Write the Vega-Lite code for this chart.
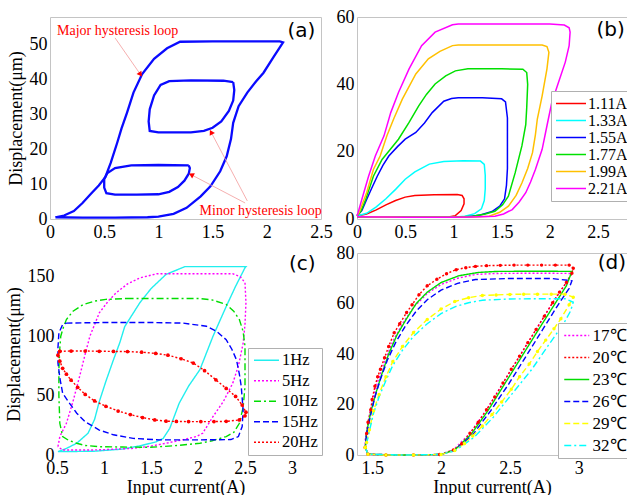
{
"$schema":"https://vega.github.io/schema/vega-lite/v6.json",
"padding":{"left":5,"top":7,"right":0,"bottom":0},
"background":"white",
"config":{
 "view":{"stroke":"#c4c4c4","strokeWidth":1},
 "axis":{"labelFont":"Liberation Serif","labelFontSize":18,"titleFont":"Liberation Serif","titleFontSize":18,"titleFontWeight":"normal","labelColor":"#000","titleColor":"#000","domain":false,"ticks":false,"grid":false,"labelFlush":false,"labelOverlap":false},
 "axisX":{"labelPadding":4,"titlePadding":1},
 "axisY":{"labelPadding":3,"titlePadding":4},
 "legend":{"labelFont":"Liberation Serif","labelColor":"#000","fillColor":"white","strokeColor":"#b0b0b0"}
},
"datasets":{
 "a":[
  {"s":"M","i":1,"x":0.05,"y":0.5},{"s":"M","i":2,"x":0.3,"y":0.4},{"s":"M","i":3,"x":0.6,"y":0.4},{"s":"M","i":4,"x":0.9,"y":0.5},{"s":"M","i":5,"x":1.0,"y":0.7},{"s":"M","i":6,"x":1.14,"y":1.5},{"s":"M","i":7,"x":1.26,"y":3.2},{"s":"M","i":8,"x":1.39,"y":6.5},{"s":"M","i":9,"x":1.48,"y":9.4},{"s":"M","i":10,"x":1.57,"y":13.7},{"s":"M","i":11,"x":1.63,"y":18},{"s":"M","i":12,"x":1.67,"y":23},{"s":"M","i":13,"x":1.69,"y":27.6},{"s":"M","i":14,"x":1.74,"y":32.4},{"s":"M","i":15,"x":1.82,"y":36.3},{"s":"M","i":16,"x":1.9,"y":39.5},{"s":"M","i":17,"x":1.97,"y":42},{"s":"M","i":18,"x":2.06,"y":46.4},{"s":"M","i":19,"x":2.15,"y":50.7},{"s":"M","i":20,"x":2.12,"y":51.0},{"s":"M","i":21,"x":1.8,"y":51.0},{"s":"M","i":22,"x":1.5,"y":51.0},{"s":"M","i":23,"x":1.2,"y":50.9},{"s":"M","i":24,"x":1.08,"y":49},{"s":"M","i":25,"x":0.96,"y":46},{"s":"M","i":26,"x":0.85,"y":41.6},{"s":"M","i":27,"x":0.77,"y":36.3},{"s":"M","i":28,"x":0.71,"y":30.5},{"s":"M","i":29,"x":0.66,"y":26},{"s":"M","i":30,"x":0.62,"y":21.9},{"s":"M","i":31,"x":0.56,"y":16.1},{"s":"M","i":32,"x":0.51,"y":12},{"s":"M","i":33,"x":0.45,"y":9.6},{"s":"M","i":34,"x":0.38,"y":7.3},{"s":"M","i":35,"x":0.3,"y":4.6},{"s":"M","i":36,"x":0.22,"y":2.3},{"s":"M","i":37,"x":0.13,"y":1.0},{"s":"M","i":38,"x":0.05,"y":0.5},
  {"s":"m1","i":1,"x":1.69,"y":39.3},{"s":"m1","i":2,"x":1.6,"y":39.7},{"s":"m1","i":3,"x":1.3,"y":39.8},{"s":"m1","i":4,"x":1.1,"y":39.6},{"s":"m1","i":5,"x":1.02,"y":38.5},{"s":"m1","i":6,"x":0.96,"y":35.5},{"s":"m1","i":7,"x":0.92,"y":31.5},{"s":"m1","i":8,"x":0.91,"y":28},{"s":"m1","i":9,"x":0.92,"y":25.3},{"s":"m1","i":10,"x":1.0,"y":24.9},{"s":"m1","i":11,"x":1.3,"y":24.9},{"s":"m1","i":12,"x":1.42,"y":25.3},{"s":"m1","i":13,"x":1.5,"y":26.2},{"s":"m1","i":14,"x":1.58,"y":28},{"s":"m1","i":15,"x":1.65,"y":31},{"s":"m1","i":16,"x":1.69,"y":34},{"s":"m1","i":17,"x":1.7,"y":37},{"s":"m1","i":18,"x":1.69,"y":39.3},
  {"s":"m2","i":1,"x":1.28,"y":15.4},{"s":"m2","i":2,"x":1.0,"y":15.5},{"s":"m2","i":3,"x":0.75,"y":15.4},{"s":"m2","i":4,"x":0.6,"y":14.6},{"s":"m2","i":5,"x":0.53,"y":13.2},{"s":"m2","i":6,"x":0.5,"y":11.5},{"s":"m2","i":7,"x":0.5,"y":9},{"s":"m2","i":8,"x":0.52,"y":7.4},{"s":"m2","i":9,"x":0.6,"y":7.0},{"s":"m2","i":10,"x":0.8,"y":7.0},{"s":"m2","i":11,"x":1.0,"y":7.1},{"s":"m2","i":12,"x":1.1,"y":7.8},{"s":"m2","i":13,"x":1.18,"y":9.2},{"s":"m2","i":14,"x":1.24,"y":11},{"s":"m2","i":15,"x":1.28,"y":13},{"s":"m2","i":16,"x":1.29,"y":14.6},{"s":"m2","i":17,"x":1.28,"y":15.4}
 ],
 "aArrow":[
  {"k":1,"x":0.83,"y":41.7,"x2":0.60,"y2":52.0},
  {"k":2,"x":1.31,"y":12.6,"x2":1.80,"y2":4.6},
  {"k":3,"x":1.49,"y":24.7,"x2":1.82,"y2":5.2}
 ],
 "aText":[
  {"x":0.065,"y":54,"t":"Major hysteresis loop"},
  {"x":1.38,"y":2.3,"t":"Minor hysteresis loop"}
 ],
 "b":[
  {"s":"1.11A","i":1,"x":0,"y":0.7},{"s":"1.11A","i":2,"x":0.5,"y":0.5},{"s":"1.11A","i":3,"x":0.95,"y":0.6},{"s":"1.11A","i":4,"x":1.02,"y":1.0},{"s":"1.11A","i":5,"x":1.08,"y":2.5},{"s":"1.11A","i":6,"x":1.11,"y":4.5},{"s":"1.11A","i":7,"x":1.11,"y":6.0},{"s":"1.11A","i":8,"x":1.09,"y":7.0},{"s":"1.11A","i":9,"x":1.04,"y":7.3},{"s":"1.11A","i":10,"x":0.8,"y":7.2},{"s":"1.11A","i":11,"x":0.6,"y":7.0},{"s":"1.11A","i":12,"x":0.5,"y":6.5},{"s":"1.11A","i":13,"x":0.4,"y":5.5},{"s":"1.11A","i":14,"x":0.3,"y":4.2},{"s":"1.11A","i":15,"x":0.2,"y":2.7},{"s":"1.11A","i":16,"x":0.1,"y":1.5},{"s":"1.11A","i":17,"x":0,"y":0.9},
  {"s":"1.33A","i":1,"x":0,"y":0.7},{"s":"1.33A","i":2,"x":0.5,"y":0.5},{"s":"1.33A","i":3,"x":1.0,"y":0.5},{"s":"1.33A","i":4,"x":1.12,"y":0.8},{"s":"1.33A","i":5,"x":1.22,"y":1.6},{"s":"1.33A","i":6,"x":1.29,"y":3.0},{"s":"1.33A","i":7,"x":1.32,"y":5.5},{"s":"1.33A","i":8,"x":1.33,"y":9},{"s":"1.33A","i":9,"x":1.33,"y":13},{"s":"1.33A","i":10,"x":1.32,"y":16.2},{"s":"1.33A","i":11,"x":1.28,"y":17.2},{"s":"1.33A","i":12,"x":1.1,"y":17.3},{"s":"1.33A","i":13,"x":0.9,"y":17.1},{"s":"1.33A","i":14,"x":0.75,"y":16.3},{"s":"1.33A","i":15,"x":0.6,"y":14},{"s":"1.33A","i":16,"x":0.5,"y":11.8},{"s":"1.33A","i":17,"x":0.4,"y":8.8},{"s":"1.33A","i":18,"x":0.3,"y":6},{"s":"1.33A","i":19,"x":0.2,"y":3.6},{"s":"1.33A","i":20,"x":0.1,"y":1.7},{"s":"1.33A","i":21,"x":0,"y":0.9},
  {"s":"1.55A","i":1,"x":0,"y":0.7},{"s":"1.55A","i":2,"x":0.5,"y":0.5},{"s":"1.55A","i":3,"x":1.0,"y":0.5},{"s":"1.55A","i":4,"x":1.15,"y":0.7},{"s":"1.55A","i":5,"x":1.28,"y":1.2},{"s":"1.55A","i":6,"x":1.4,"y":2.2},{"s":"1.55A","i":7,"x":1.48,"y":3.8},{"s":"1.55A","i":8,"x":1.53,"y":6},{"s":"1.55A","i":9,"x":1.55,"y":10},{"s":"1.55A","i":10,"x":1.56,"y":15},{"s":"1.55A","i":11,"x":1.56,"y":22},{"s":"1.55A","i":12,"x":1.56,"y":30},{"s":"1.55A","i":13,"x":1.54,"y":34.8},{"s":"1.55A","i":14,"x":1.5,"y":35.7},{"s":"1.55A","i":15,"x":1.3,"y":36},{"s":"1.55A","i":16,"x":1.05,"y":36},{"s":"1.55A","i":17,"x":0.98,"y":35.8},{"s":"1.55A","i":18,"x":0.9,"y":35},{"s":"1.55A","i":19,"x":0.78,"y":31.6},{"s":"1.55A","i":20,"x":0.7,"y":28.5},{"s":"1.55A","i":21,"x":0.61,"y":25.7},{"s":"1.55A","i":22,"x":0.5,"y":23.7},{"s":"1.55A","i":23,"x":0.42,"y":21.5},{"s":"1.55A","i":24,"x":0.33,"y":18.7},{"s":"1.55A","i":25,"x":0.27,"y":16},{"s":"1.55A","i":26,"x":0.21,"y":12.7},{"s":"1.55A","i":27,"x":0.15,"y":9},{"s":"1.55A","i":28,"x":0.1,"y":5.8},{"s":"1.55A","i":29,"x":0.05,"y":2.5},{"s":"1.55A","i":30,"x":0,"y":1},
  {"s":"1.77A","i":1,"x":0,"y":0.7},{"s":"1.77A","i":2,"x":0.5,"y":0.5},{"s":"1.77A","i":3,"x":1.0,"y":0.5},{"s":"1.77A","i":4,"x":1.2,"y":0.8},{"s":"1.77A","i":5,"x":1.33,"y":1.5},{"s":"1.77A","i":6,"x":1.43,"y":2.3},{"s":"1.77A","i":7,"x":1.51,"y":4.2},{"s":"1.77A","i":8,"x":1.57,"y":6.8},{"s":"1.77A","i":9,"x":1.64,"y":13.7},{"s":"1.77A","i":10,"x":1.71,"y":21.7},{"s":"1.77A","i":11,"x":1.75,"y":28},{"s":"1.77A","i":12,"x":1.76,"y":33},{"s":"1.77A","i":13,"x":1.77,"y":40},{"s":"1.77A","i":14,"x":1.76,"y":43.5},{"s":"1.77A","i":15,"x":1.72,"y":44.5},{"s":"1.77A","i":16,"x":1.5,"y":44.6},{"s":"1.77A","i":17,"x":1.15,"y":44.6},{"s":"1.77A","i":18,"x":1.02,"y":44},{"s":"1.77A","i":19,"x":0.92,"y":42.5},{"s":"1.77A","i":20,"x":0.81,"y":40.1},{"s":"1.77A","i":21,"x":0.72,"y":37},{"s":"1.77A","i":22,"x":0.64,"y":33.6},{"s":"1.77A","i":23,"x":0.54,"y":28.7},{"s":"1.77A","i":24,"x":0.43,"y":23.7},{"s":"1.77A","i":25,"x":0.34,"y":20.5},{"s":"1.77A","i":26,"x":0.26,"y":17.7},{"s":"1.77A","i":27,"x":0.17,"y":12.7},{"s":"1.77A","i":28,"x":0.09,"y":5.8},{"s":"1.77A","i":29,"x":0.04,"y":2.3},{"s":"1.77A","i":30,"x":0,"y":1},
  {"s":"1.99A","i":1,"x":0,"y":0.7},{"s":"1.99A","i":2,"x":0.5,"y":0.5},{"s":"1.99A","i":3,"x":1.0,"y":0.5},{"s":"1.99A","i":4,"x":1.2,"y":0.6},{"s":"1.99A","i":5,"x":1.37,"y":0.8},{"s":"1.99A","i":6,"x":1.48,"y":2},{"s":"1.99A","i":7,"x":1.57,"y":3.8},{"s":"1.99A","i":8,"x":1.65,"y":7},{"s":"1.99A","i":9,"x":1.71,"y":10.7},{"s":"1.99A","i":10,"x":1.77,"y":15},{"s":"1.99A","i":11,"x":1.82,"y":19.7},{"s":"1.99A","i":12,"x":1.85,"y":25},{"s":"1.99A","i":13,"x":1.87,"y":29.7},{"s":"1.99A","i":14,"x":1.92,"y":36.6},{"s":"1.99A","i":15,"x":1.97,"y":44.6},{"s":"1.99A","i":16,"x":1.99,"y":49.5},{"s":"1.99A","i":17,"x":1.97,"y":51.2},{"s":"1.99A","i":18,"x":1.92,"y":51.7},{"s":"1.99A","i":19,"x":1.5,"y":51.7},{"s":"1.99A","i":20,"x":1.05,"y":51.7},{"s":"1.99A","i":21,"x":0.99,"y":51.5},{"s":"1.99A","i":22,"x":0.86,"y":49.8},{"s":"1.99A","i":23,"x":0.74,"y":47.6},{"s":"1.99A","i":24,"x":0.61,"y":43.1},{"s":"1.99A","i":25,"x":0.47,"y":35.6},{"s":"1.99A","i":26,"x":0.38,"y":29.7},{"s":"1.99A","i":27,"x":0.31,"y":24.7},{"s":"1.99A","i":28,"x":0.24,"y":18.7},{"s":"1.99A","i":29,"x":0.17,"y":14.7},{"s":"1.99A","i":30,"x":0.1,"y":7.8},{"s":"1.99A","i":31,"x":0.02,"y":1.8},{"s":"1.99A","i":32,"x":0,"y":1},
  {"s":"2.21A","i":1,"x":0,"y":0.7},{"s":"2.21A","i":2,"x":0.5,"y":0.5},{"s":"2.21A","i":3,"x":1.0,"y":0.5},{"s":"2.21A","i":4,"x":1.2,"y":0.6},{"s":"2.21A","i":5,"x":1.43,"y":0.8},{"s":"2.21A","i":6,"x":1.52,"y":1.5},{"s":"2.21A","i":7,"x":1.61,"y":2.8},{"s":"2.21A","i":8,"x":1.68,"y":5},{"s":"2.21A","i":9,"x":1.75,"y":7.8},{"s":"2.21A","i":10,"x":1.8,"y":11},{"s":"2.21A","i":11,"x":1.85,"y":14.7},{"s":"2.21A","i":12,"x":1.92,"y":20.7},{"s":"2.21A","i":13,"x":1.97,"y":27.7},{"s":"2.21A","i":14,"x":2.02,"y":34.6},{"s":"2.21A","i":15,"x":2.09,"y":40.6},{"s":"2.21A","i":16,"x":2.16,"y":46.6},{"s":"2.21A","i":17,"x":2.2,"y":51.5},{"s":"2.21A","i":18,"x":2.21,"y":55.5},{"s":"2.21A","i":19,"x":2.2,"y":56.8},{"s":"2.21A","i":20,"x":2.15,"y":57.6},{"s":"2.21A","i":21,"x":2.0,"y":57.9},{"s":"2.21A","i":22,"x":1.5,"y":57.9},{"s":"2.21A","i":23,"x":1.05,"y":57.9},{"s":"2.21A","i":24,"x":0.99,"y":57.7},{"s":"2.21A","i":25,"x":0.81,"y":55.5},{"s":"2.21A","i":26,"x":0.67,"y":51.5},{"s":"2.21A","i":27,"x":0.54,"y":44.6},{"s":"2.21A","i":28,"x":0.43,"y":37.6},{"s":"2.21A","i":29,"x":0.35,"y":31.6},{"s":"2.21A","i":30,"x":0.28,"y":24.7},{"s":"2.21A","i":31,"x":0.19,"y":18.7},{"s":"2.21A","i":32,"x":0.12,"y":12.7},{"s":"2.21A","i":33,"x":0.05,"y":5.8},{"s":"2.21A","i":34,"x":0.01,"y":1.8},{"s":"2.21A","i":35,"x":0,"y":1}
 ],
 "c":[
  {"s":"1Hz","i":1,"x":0.51,"y":2.8},{"s":"1Hz","i":2,"x":0.9,"y":3.2},{"s":"1Hz","i":3,"x":1.2,"y":5},{"s":"1Hz","i":4,"x":1.4,"y":8},{"s":"1Hz","i":5,"x":1.55,"y":11},{"s":"1Hz","i":6,"x":1.63,"y":14},{"s":"1Hz","i":7,"x":1.7,"y":22.5},{"s":"1Hz","i":8,"x":1.8,"y":43.6},{"s":"1Hz","i":9,"x":1.9,"y":58},{"s":"1Hz","i":10,"x":2.02,"y":71.8},{"s":"1Hz","i":11,"x":2.16,"y":100},{"s":"1Hz","i":12,"x":2.3,"y":125},{"s":"1Hz","i":13,"x":2.4,"y":142},{"s":"1Hz","i":14,"x":2.5,"y":157.6},{"s":"1Hz","i":15,"x":2.51,"y":158.5},{"s":"1Hz","i":16,"x":2.2,"y":158.5},{"s":"1Hz","i":17,"x":1.86,"y":158.5},{"s":"1Hz","i":18,"x":1.66,"y":152},{"s":"1Hz","i":19,"x":1.5,"y":140},{"s":"1Hz","i":20,"x":1.38,"y":128},{"s":"1Hz","i":21,"x":1.3,"y":118},{"s":"1Hz","i":22,"x":1.22,"y":108},{"s":"1Hz","i":23,"x":1.17,"y":95},{"s":"1Hz","i":24,"x":1.1,"y":80},{"s":"1Hz","i":25,"x":1.02,"y":62},{"s":"1Hz","i":26,"x":0.95,"y":45},{"s":"1Hz","i":27,"x":0.9,"y":30},{"s":"1Hz","i":28,"x":0.83,"y":18.3},{"s":"1Hz","i":29,"x":0.71,"y":9.9},{"s":"1Hz","i":30,"x":0.6,"y":5.5},{"s":"1Hz","i":31,"x":0.53,"y":3.4},{"s":"1Hz","i":32,"x":0.51,"y":2.8},
  {"s":"5Hz","i":1,"x":0.51,"y":7},{"s":"5Hz","i":2,"x":0.53,"y":15.5},{"s":"5Hz","i":3,"x":0.6,"y":26.7},{"s":"5Hz","i":4,"x":0.67,"y":45},{"s":"5Hz","i":5,"x":0.74,"y":66},{"s":"5Hz","i":6,"x":0.8,"y":85},{"s":"5Hz","i":7,"x":0.85,"y":100},{"s":"5Hz","i":8,"x":0.95,"y":119.6},{"s":"5Hz","i":9,"x":1.05,"y":130},{"s":"5Hz","i":10,"x":1.13,"y":136.5},{"s":"5Hz","i":11,"x":1.25,"y":144},{"s":"5Hz","i":12,"x":1.38,"y":149},{"s":"5Hz","i":13,"x":1.56,"y":152.5},{"s":"5Hz","i":14,"x":1.9,"y":152.5},{"s":"5Hz","i":15,"x":2.2,"y":152.5},{"s":"5Hz","i":16,"x":2.37,"y":152.5},{"s":"5Hz","i":17,"x":2.45,"y":150},{"s":"5Hz","i":18,"x":2.5,"y":145},{"s":"5Hz","i":19,"x":2.51,"y":128},{"s":"5Hz","i":20,"x":2.5,"y":110},{"s":"5Hz","i":21,"x":2.48,"y":94},{"s":"5Hz","i":22,"x":2.43,"y":75},{"s":"5Hz","i":23,"x":2.37,"y":60.5},{"s":"5Hz","i":24,"x":2.27,"y":45},{"s":"5Hz","i":25,"x":2.16,"y":32.4},{"s":"5Hz","i":26,"x":2.05,"y":18.3},{"s":"5Hz","i":27,"x":1.98,"y":15.5},{"s":"5Hz","i":28,"x":1.85,"y":13},{"s":"5Hz","i":29,"x":1.66,"y":9.9},{"s":"5Hz","i":30,"x":1.5,"y":7.5},{"s":"5Hz","i":31,"x":1.31,"y":5.6},{"s":"5Hz","i":32,"x":1.0,"y":4.5},{"s":"5Hz","i":33,"x":0.85,"y":4.2},{"s":"5Hz","i":34,"x":0.56,"y":4.2},{"s":"5Hz","i":35,"x":0.51,"y":7},
  {"s":"10Hz","i":1,"x":1.24,"y":131.7},{"s":"10Hz","i":2,"x":1.6,"y":131.7},{"s":"10Hz","i":3,"x":2.02,"y":131.7},{"s":"10Hz","i":4,"x":2.15,"y":130.5},{"s":"10Hz","i":5,"x":2.3,"y":126.7},{"s":"10Hz","i":6,"x":2.38,"y":121},{"s":"10Hz","i":7,"x":2.44,"y":114},{"s":"10Hz","i":8,"x":2.48,"y":104},{"s":"10Hz","i":9,"x":2.5,"y":91.5},{"s":"10Hz","i":10,"x":2.5,"y":75},{"s":"10Hz","i":11,"x":2.5,"y":57.7},{"s":"10Hz","i":12,"x":2.48,"y":40},{"s":"10Hz","i":13,"x":2.44,"y":26.7},{"s":"10Hz","i":14,"x":2.38,"y":19},{"s":"10Hz","i":15,"x":2.3,"y":15.5},{"s":"10Hz","i":16,"x":2.15,"y":12},{"s":"10Hz","i":17,"x":2.02,"y":9.9},{"s":"10Hz","i":18,"x":1.75,"y":7.8},{"s":"10Hz","i":19,"x":1.49,"y":6.5},{"s":"10Hz","i":20,"x":1.2,"y":6.7},{"s":"10Hz","i":21,"x":0.95,"y":7},{"s":"10Hz","i":22,"x":0.8,"y":8},{"s":"10Hz","i":23,"x":0.71,"y":9.9},{"s":"10Hz","i":24,"x":0.62,"y":12.5},{"s":"10Hz","i":25,"x":0.56,"y":15.5},{"s":"10Hz","i":26,"x":0.53,"y":26.7},{"s":"10Hz","i":27,"x":0.52,"y":50},{"s":"10Hz","i":28,"x":0.52,"y":71.8},{"s":"10Hz","i":29,"x":0.53,"y":90},{"s":"10Hz","i":30,"x":0.54,"y":100},{"s":"10Hz","i":31,"x":0.57,"y":108},{"s":"10Hz","i":32,"x":0.6,"y":114},{"s":"10Hz","i":33,"x":0.67,"y":121},{"s":"10Hz","i":34,"x":0.78,"y":126.7},{"s":"10Hz","i":35,"x":0.9,"y":129.5},{"s":"10Hz","i":36,"x":1.02,"y":131},{"s":"10Hz","i":37,"x":1.24,"y":131.7},
  {"s":"15Hz","i":1,"x":0.6,"y":111},{"s":"15Hz","i":2,"x":1.0,"y":111.5},{"s":"15Hz","i":3,"x":1.5,"y":111.5},{"s":"15Hz","i":4,"x":1.84,"y":111},{"s":"15Hz","i":5,"x":2.09,"y":108.4},{"s":"15Hz","i":6,"x":2.2,"y":104},{"s":"15Hz","i":7,"x":2.3,"y":97},{"s":"15Hz","i":8,"x":2.36,"y":89},{"s":"15Hz","i":9,"x":2.41,"y":80},{"s":"15Hz","i":10,"x":2.44,"y":68},{"s":"15Hz","i":11,"x":2.46,"y":57.7},{"s":"15Hz","i":12,"x":2.48,"y":38},{"s":"15Hz","i":13,"x":2.47,"y":24},{"s":"15Hz","i":14,"x":2.43,"y":15.5},{"s":"15Hz","i":15,"x":2.35,"y":13},{"s":"15Hz","i":16,"x":2.0,"y":12.7},{"s":"15Hz","i":17,"x":1.59,"y":12.7},{"s":"15Hz","i":18,"x":1.31,"y":14},{"s":"15Hz","i":19,"x":1.1,"y":17},{"s":"15Hz","i":20,"x":0.95,"y":21},{"s":"15Hz","i":21,"x":0.8,"y":28},{"s":"15Hz","i":22,"x":0.71,"y":35.2},{"s":"15Hz","i":23,"x":0.62,"y":45},{"s":"15Hz","i":24,"x":0.56,"y":52},{"s":"15Hz","i":25,"x":0.53,"y":65},{"s":"15Hz","i":26,"x":0.51,"y":77.4},{"s":"15Hz","i":27,"x":0.51,"y":90},{"s":"15Hz","i":28,"x":0.52,"y":102.7},{"s":"15Hz","i":29,"x":0.56,"y":109.8},{"s":"15Hz","i":30,"x":0.6,"y":111},
  {"s":"20Hz","i":1,"x":0.53,"y":87.3},{"s":"20Hz","i":2,"x":0.65,"y":87.5},{"s":"20Hz","i":3,"x":0.8,"y":87.5},{"s":"20Hz","i":4,"x":0.95,"y":87.3},{"s":"20Hz","i":5,"x":1.1,"y":87.2},{"s":"20Hz","i":6,"x":1.25,"y":87},{"s":"20Hz","i":7,"x":1.4,"y":86.5},{"s":"20Hz","i":8,"x":1.55,"y":85.5},{"s":"20Hz","i":9,"x":1.68,"y":84},{"s":"20Hz","i":10,"x":1.82,"y":81},{"s":"20Hz","i":11,"x":1.95,"y":77.4},{"s":"20Hz","i":12,"x":2.07,"y":71},{"s":"20Hz","i":13,"x":2.19,"y":63.3},{"s":"20Hz","i":14,"x":2.3,"y":56},{"s":"20Hz","i":15,"x":2.4,"y":49.3},{"s":"20Hz","i":16,"x":2.47,"y":42},{"s":"20Hz","i":17,"x":2.51,"y":36},{"s":"20Hz","i":18,"x":2.5,"y":33},{"s":"20Hz","i":19,"x":2.44,"y":29.5},{"s":"20Hz","i":20,"x":2.3,"y":28.3},{"s":"20Hz","i":21,"x":2.17,"y":28.1},{"s":"20Hz","i":22,"x":2.03,"y":28.1},{"s":"20Hz","i":23,"x":1.9,"y":28.1},{"s":"20Hz","i":24,"x":1.77,"y":28.2},{"s":"20Hz","i":25,"x":1.66,"y":28.5},{"s":"20Hz","i":26,"x":1.54,"y":29.5},{"s":"20Hz","i":27,"x":1.41,"y":31.5},{"s":"20Hz","i":28,"x":1.28,"y":34},{"s":"20Hz","i":29,"x":1.15,"y":37},{"s":"20Hz","i":30,"x":1.02,"y":41},{"s":"20Hz","i":31,"x":0.9,"y":45.5},{"s":"20Hz","i":32,"x":0.8,"y":51},{"s":"20Hz","i":33,"x":0.72,"y":57},{"s":"20Hz","i":34,"x":0.65,"y":63},{"s":"20Hz","i":35,"x":0.6,"y":68},{"s":"20Hz","i":36,"x":0.56,"y":73},{"s":"20Hz","i":37,"x":0.53,"y":79},{"s":"20Hz","i":38,"x":0.51,"y":84},{"s":"20Hz","i":39,"x":0.53,"y":87.3}
 ],
 "d":[
  {"s":"17℃","i":1,"x":1.45,"y":3},{"s":"17℃","i":2,"x":1.47,"y":0.3},{"s":"17℃","i":3,"x":1.7,"y":0},{"s":"17℃","i":4,"x":1.99,"y":0.2},{"s":"17℃","i":5,"x":2.09,"y":2},{"s":"17℃","i":6,"x":2.21,"y":8.6},{"s":"17℃","i":7,"x":2.33,"y":17.9},{"s":"17℃","i":8,"x":2.45,"y":28.5},{"s":"17℃","i":9,"x":2.57,"y":39.1},{"s":"17℃","i":10,"x":2.69,"y":49.7},{"s":"17℃","i":11,"x":2.81,"y":60.3},{"s":"17℃","i":12,"x":2.91,"y":68.3},{"s":"17℃","i":13,"x":2.95,"y":71.9},{"s":"17℃","i":14,"x":2.7,"y":72},{"s":"17℃","i":15,"x":2.4,"y":71.9},{"s":"17℃","i":16,"x":2.25,"y":71.5},{"s":"17℃","i":17,"x":2.12,"y":70},{"s":"17℃","i":18,"x":2.0,"y":67.5},{"s":"17℃","i":19,"x":1.9,"y":64},{"s":"17℃","i":20,"x":1.8,"y":58.5},{"s":"17℃","i":21,"x":1.72,"y":52},{"s":"17℃","i":22,"x":1.65,"y":45},{"s":"17℃","i":23,"x":1.59,"y":37},{"s":"17℃","i":24,"x":1.54,"y":29},{"s":"17℃","i":25,"x":1.5,"y":21},{"s":"17℃","i":26,"x":1.47,"y":13},{"s":"17℃","i":27,"x":1.45,"y":6},{"s":"17℃","i":28,"x":1.45,"y":3},
  {"s":"20℃","i":1,"x":1.45,"y":3},{"s":"20℃","i":2,"x":1.47,"y":0.3},{"s":"20℃","i":3,"x":1.6,"y":0},{"s":"20℃","i":4,"x":1.8,"y":0},{"s":"20℃","i":5,"x":1.99,"y":0.2},{"s":"20℃","i":6,"x":2.09,"y":2},{"s":"20℃","i":7,"x":2.15,"y":4.5},{"s":"20℃","i":8,"x":2.21,"y":8.6},{"s":"20℃","i":9,"x":2.27,"y":13},{"s":"20℃","i":10,"x":2.33,"y":17.9},{"s":"20℃","i":11,"x":2.39,"y":23},{"s":"20℃","i":12,"x":2.45,"y":28.5},{"s":"20℃","i":13,"x":2.51,"y":34},{"s":"20℃","i":14,"x":2.57,"y":39.1},{"s":"20℃","i":15,"x":2.63,"y":44.5},{"s":"20℃","i":16,"x":2.69,"y":49.7},{"s":"20℃","i":17,"x":2.75,"y":55},{"s":"20℃","i":18,"x":2.81,"y":60.3},{"s":"20℃","i":19,"x":2.86,"y":64.5},{"s":"20℃","i":20,"x":2.91,"y":68.3},{"s":"20℃","i":21,"x":2.95,"y":72},{"s":"20℃","i":22,"x":2.96,"y":74},{"s":"20℃","i":23,"x":2.93,"y":75.2},{"s":"20℃","i":24,"x":2.83,"y":75.2},{"s":"20℃","i":25,"x":2.73,"y":75.2},{"s":"20℃","i":26,"x":2.63,"y":75.2},{"s":"20℃","i":27,"x":2.53,"y":75.2},{"s":"20℃","i":28,"x":2.43,"y":75.1},{"s":"20℃","i":29,"x":2.33,"y":75},{"s":"20℃","i":30,"x":2.25,"y":74.7},{"s":"20℃","i":31,"x":2.18,"y":74.2},{"s":"20℃","i":32,"x":2.11,"y":73.4},{"s":"20℃","i":33,"x":2.04,"y":71.8},{"s":"20℃","i":34,"x":1.97,"y":69.6},{"s":"20℃","i":35,"x":1.9,"y":67},{"s":"20℃","i":36,"x":1.84,"y":63.5},{"s":"20℃","i":37,"x":1.79,"y":59.5},{"s":"20℃","i":38,"x":1.75,"y":56.4},{"s":"20℃","i":39,"x":1.7,"y":52},{"s":"20℃","i":40,"x":1.66,"y":48.4},{"s":"20℃","i":41,"x":1.62,"y":43},{"s":"20℃","i":42,"x":1.59,"y":38.5},{"s":"20℃","i":43,"x":1.56,"y":34},{"s":"20℃","i":44,"x":1.54,"y":31},{"s":"20℃","i":45,"x":1.52,"y":27.2},{"s":"20℃","i":46,"x":1.5,"y":22},{"s":"20℃","i":47,"x":1.49,"y":17.9},{"s":"20℃","i":48,"x":1.47,"y":13},{"s":"20℃","i":49,"x":1.46,"y":8.5},{"s":"20℃","i":50,"x":1.45,"y":3},
  {"s":"23℃","i":1,"x":1.45,"y":3},{"s":"23℃","i":2,"x":1.47,"y":0.3},{"s":"23℃","i":3,"x":1.7,"y":0},{"s":"23℃","i":4,"x":2.0,"y":0.2},{"s":"23℃","i":5,"x":2.1,"y":2},{"s":"23℃","i":6,"x":2.22,"y":8.3},{"s":"23℃","i":7,"x":2.34,"y":17.5},{"s":"23℃","i":8,"x":2.46,"y":28},{"s":"23℃","i":9,"x":2.58,"y":38.5},{"s":"23℃","i":10,"x":2.7,"y":49},{"s":"23℃","i":11,"x":2.82,"y":59.3},{"s":"23℃","i":12,"x":2.91,"y":67},{"s":"23℃","i":13,"x":2.95,"y":72.7},{"s":"23℃","i":14,"x":2.7,"y":72.8},{"s":"23℃","i":15,"x":2.4,"y":72.7},{"s":"23℃","i":16,"x":2.27,"y":72.3},{"s":"23℃","i":17,"x":2.13,"y":71},{"s":"23℃","i":18,"x":2.0,"y":68.3},{"s":"23℃","i":19,"x":1.9,"y":64.5},{"s":"23℃","i":20,"x":1.82,"y":60},{"s":"23℃","i":21,"x":1.75,"y":54},{"s":"23℃","i":22,"x":1.68,"y":47.5},{"s":"23℃","i":23,"x":1.62,"y":40},{"s":"23℃","i":24,"x":1.57,"y":32},{"s":"23℃","i":25,"x":1.53,"y":25},{"s":"23℃","i":26,"x":1.49,"y":17},{"s":"23℃","i":27,"x":1.46,"y":9},{"s":"23℃","i":28,"x":1.45,"y":3},
  {"s":"26℃","i":1,"x":1.45,"y":3},{"s":"26℃","i":2,"x":1.47,"y":0.3},{"s":"26℃","i":3,"x":1.7,"y":0},{"s":"26℃","i":4,"x":2.0,"y":0.2},{"s":"26℃","i":5,"x":2.1,"y":2},{"s":"26℃","i":6,"x":2.23,"y":8},{"s":"26℃","i":7,"x":2.36,"y":17.5},{"s":"26℃","i":8,"x":2.49,"y":28},{"s":"26℃","i":9,"x":2.61,"y":38.5},{"s":"26℃","i":10,"x":2.73,"y":49},{"s":"26℃","i":11,"x":2.85,"y":59.5},{"s":"26℃","i":12,"x":2.93,"y":66},{"s":"26℃","i":13,"x":2.95,"y":69},{"s":"26℃","i":14,"x":2.8,"y":69.9},{"s":"26℃","i":15,"x":2.5,"y":69.9},{"s":"26℃","i":16,"x":2.25,"y":69.5},{"s":"26℃","i":17,"x":2.12,"y":68},{"s":"26℃","i":18,"x":2.0,"y":65.3},{"s":"26℃","i":19,"x":1.9,"y":61.5},{"s":"26℃","i":20,"x":1.82,"y":57},{"s":"26℃","i":21,"x":1.74,"y":51},{"s":"26℃","i":22,"x":1.67,"y":44.5},{"s":"26℃","i":23,"x":1.61,"y":37.5},{"s":"26℃","i":24,"x":1.56,"y":30},{"s":"26℃","i":25,"x":1.52,"y":23},{"s":"26℃","i":26,"x":1.49,"y":16},{"s":"26℃","i":27,"x":1.46,"y":8.5},{"s":"26℃","i":28,"x":1.45,"y":3},
  {"s":"29℃","i":1,"x":1.45,"y":3},{"s":"29℃","i":2,"x":1.47,"y":0.3},{"s":"29℃","i":3,"x":1.6,"y":0},{"s":"29℃","i":4,"x":1.8,"y":0},{"s":"29℃","i":5,"x":2.0,"y":0.2},{"s":"29℃","i":6,"x":2.1,"y":1.8},{"s":"29℃","i":7,"x":2.17,"y":4.5},{"s":"29℃","i":8,"x":2.23,"y":7.5},{"s":"29℃","i":9,"x":2.3,"y":11.5},{"s":"29℃","i":10,"x":2.37,"y":16},{"s":"29℃","i":11,"x":2.44,"y":21},{"s":"29℃","i":12,"x":2.51,"y":26},{"s":"29℃","i":13,"x":2.57,"y":31},{"s":"29℃","i":14,"x":2.64,"y":36},{"s":"29℃","i":15,"x":2.7,"y":41},{"s":"29℃","i":16,"x":2.76,"y":45.5},{"s":"29℃","i":17,"x":2.82,"y":50},{"s":"29℃","i":18,"x":2.87,"y":54},{"s":"29℃","i":19,"x":2.93,"y":59.5},{"s":"29℃","i":20,"x":2.96,"y":62.5},{"s":"29℃","i":21,"x":2.9,"y":63.7},{"s":"29℃","i":22,"x":2.8,"y":63.7},{"s":"29℃","i":23,"x":2.7,"y":63.7},{"s":"29℃","i":24,"x":2.6,"y":63.7},{"s":"29℃","i":25,"x":2.5,"y":63.6},{"s":"29℃","i":26,"x":2.4,"y":63.4},{"s":"29℃","i":27,"x":2.3,"y":63.2},{"s":"29℃","i":28,"x":2.2,"y":62.3},{"s":"29℃","i":29,"x":2.1,"y":60.8},{"s":"29℃","i":30,"x":2.0,"y":57.8},{"s":"29℃","i":31,"x":1.9,"y":53.7},{"s":"29℃","i":32,"x":1.8,"y":48.5},{"s":"29℃","i":33,"x":1.72,"y":43},{"s":"29℃","i":34,"x":1.65,"y":37},{"s":"29℃","i":35,"x":1.6,"y":31},{"s":"29℃","i":36,"x":1.55,"y":24},{"s":"29℃","i":37,"x":1.51,"y":17.5},{"s":"29℃","i":38,"x":1.48,"y":10},{"s":"29℃","i":39,"x":1.46,"y":5},{"s":"29℃","i":40,"x":1.45,"y":3},
  {"s":"32℃","i":1,"x":1.45,"y":3},{"s":"32℃","i":2,"x":1.47,"y":0.3},{"s":"32℃","i":3,"x":1.7,"y":0},{"s":"32℃","i":4,"x":2.0,"y":0.2},{"s":"32℃","i":5,"x":2.1,"y":1.6},{"s":"32℃","i":6,"x":2.24,"y":7},{"s":"32℃","i":7,"x":2.38,"y":15},{"s":"32℃","i":8,"x":2.52,"y":24.5},{"s":"32℃","i":9,"x":2.66,"y":34},{"s":"32℃","i":10,"x":2.78,"y":43.5},{"s":"32℃","i":11,"x":2.89,"y":52},{"s":"32℃","i":12,"x":2.94,"y":57},{"s":"32℃","i":13,"x":2.96,"y":60.5},{"s":"32℃","i":14,"x":2.9,"y":61.9},{"s":"32℃","i":15,"x":2.7,"y":61.9},{"s":"32℃","i":16,"x":2.5,"y":61.8},{"s":"32℃","i":17,"x":2.3,"y":61.3},{"s":"32℃","i":18,"x":2.2,"y":60.3},{"s":"32℃","i":19,"x":2.1,"y":58.7},{"s":"32℃","i":20,"x":2.0,"y":56},{"s":"32℃","i":21,"x":1.9,"y":52},{"s":"32℃","i":22,"x":1.8,"y":47},{"s":"32℃","i":23,"x":1.72,"y":41.5},{"s":"32℃","i":24,"x":1.65,"y":35.5},{"s":"32℃","i":25,"x":1.6,"y":29.5},{"s":"32℃","i":26,"x":1.55,"y":23},{"s":"32℃","i":27,"x":1.51,"y":16.5},{"s":"32℃","i":28,"x":1.48,"y":9.5},{"s":"32℃","i":29,"x":1.46,"y":4.5},{"s":"32℃","i":30,"x":1.45,"y":3}
 ]
},
"bounds":"full",
"spacing":1,
"resolve":{"scale":{"color":"independent","strokeDash":"independent"},"legend":{"color":"independent","strokeDash":"independent"}},
"vconcat":[
 {"bounds":"flush","spacing":36,
  "resolve":{"scale":{"color":"independent","strokeDash":"independent"},"legend":{"color":"independent","strokeDash":"independent"}},
  "hconcat":[
  {"width":271,"height":202,
   "encoding":{
    "x":{"field":"x","type":"quantitative","scale":{"domain":[0,2.5],"nice":false,"zero":false},"axis":{"values":[0,0.5,1,1.5,2,2.5],"format":".3~g","title":null}},
    "y":{"field":"y","type":"quantitative","scale":{"domain":[0,58],"nice":false,"zero":false},"axis":{"values":[0,10,20,30,40,50],"format":".3~g","title":"Displacement(μm)"}}
   },
   "layer":[
    {"data":{"name":"a"},"mark":{"type":"line","color":"#0a0aff","strokeWidth":2.3},"encoding":{"detail":{"field":"s"},"order":{"field":"i","type":"quantitative"}}},
    {"data":{"name":"aArrow"},"mark":{"type":"rule","color":"#f29a9a","strokeWidth":0.8},"encoding":{"x2":{"field":"x2"},"y2":{"field":"y2"}}},
    {"data":{"name":"aArrow"},"transform":[{"filter":"datum.k==1"}],"mark":{"type":"point","shape":"triangle","filled":true,"color":"#ff0000","size":35,"angle":145,"opacity":1},"encoding":{}},
    {"data":{"name":"aArrow"},"transform":[{"filter":"datum.k==2"}],"mark":{"type":"point","shape":"triangle","filled":true,"color":"#ff0000","size":35,"angle":298,"opacity":1},"encoding":{}},
    {"data":{"name":"aArrow"},"transform":[{"filter":"datum.k==3"}],"mark":{"type":"point","shape":"triangle","filled":true,"color":"#ff0000","size":35,"angle":332,"opacity":1},"encoding":{}},
    {"data":{"name":"aText"},"mark":{"type":"text","align":"left","baseline":"middle","font":"Liberation Serif","fontSize":14,"color":"#ff0000"},"encoding":{"text":{"field":"t"}}},
    {"data":{"values":[{"x":2.32,"y":54,"t":"(a)"}]},"mark":{"type":"text","font":"DejaVu Sans","fontSize":20,"color":"#000"},"encoding":{"text":{"field":"t"}}}
   ]},
  {"width":270,"height":202,
   "encoding":{
    "x":{"field":"x","type":"quantitative","scale":{"domain":[0,2.8],"nice":false,"zero":false},"axis":{"values":[0,0.5,1,1.5,2,2.5],"format":".3~g","title":null}},
    "y":{"field":"y","type":"quantitative","scale":{"domain":[0,60],"nice":false,"zero":false},"axis":{"values":[0,20,40,60],"format":".3~g","title":null}}
   },
   "layer":[
    {"data":{"name":"b"},"mark":{"type":"line","strokeWidth":1.5},"encoding":{
      "color":{"field":"s","type":"nominal","scale":{"domain":["1.11A","1.33A","1.55A","1.77A","1.99A","2.21A"],"range":["#ff0000","#00ffff","#0000ff","#00e000","#ffc000","#ff00ff"]},
        "legend":{"orient":"none","legendX":194,"legendY":74,"title":null,"symbolType":"M-1,0L3,0","symbolSize":225,"symbolStrokeWidth":1.5,"labelFontSize":16,"labelOffset":16,"rowPadding":-1,"padding":4}},
      "order":{"field":"i","type":"quantitative"}}},
    {"data":{"values":[{"x":2.63,"y":56,"t":"(b)"}]},"mark":{"type":"text","font":"DejaVu Sans","fontSize":20,"color":"#000"},"encoding":{"text":{"field":"t"}}}
   ]}
 ]},
 {"bounds":"flush","spacing":36,
  "resolve":{"scale":{"color":"independent","strokeDash":"independent"},"legend":{"color":"independent","strokeDash":"independent"}},
  "hconcat":[
  {"width":271,"height":202,"view":{"stroke":null},
   "encoding":{
    "x":{"field":"x","type":"quantitative","scale":{"domain":[0.4255,3.3085],"nice":false,"zero":false},"axis":{"values":[0.5,1,1.5,2,2.5,3],"format":".3~g","title":"Input current(A)"}},
    "y":{"field":"y","type":"quantitative","scale":{"domain":[0,170],"nice":false,"zero":false},"axis":{"values":[0,50,100,150],"format":".3~g","title":"Displacement(μm)","offset":-7}}
   },
   "layer":[
    {"mark":{"type":"rule","color":"#c4c4c4","strokeWidth":1},"encoding":{"x":{"datum":0.5}}},
    {"mark":{"type":"rule","color":"#c4c4c4","strokeWidth":1},"encoding":{"x":{"datum":3.3085}}},
    {"mark":{"type":"rule","color":"#c4c4c4","strokeWidth":1},"encoding":{"y":{"datum":170},"x":{"datum":0.5},"x2":{"datum":3.3085}}},
    {"mark":{"type":"rule","color":"#c4c4c4","strokeWidth":1},"encoding":{"y":{"datum":0},"x":{"datum":0.5},"x2":{"datum":3.3085}}},
    {"data":{"name":"c"},"mark":{"type":"line","strokeWidth":1.4},"encoding":{
      "color":{"field":"s","type":"nominal","scale":{"domain":["1Hz","5Hz","10Hz","15Hz","20Hz"],"range":["#22eeee","#ff00ff","#00dd00","#0000ff","#ff0000"]},
        "legend":{"orient":"none","legendX":198,"legendY":95,"title":null,"symbolType":"M-1,0L3,0","symbolSize":156,"symbolStrokeWidth":1.5,"labelFontSize":16.5,"labelOffset":13.5,"rowPadding":3.5,"padding":4}},
      "strokeDash":{"field":"s","type":"nominal","scale":{"domain":["1Hz","5Hz","10Hz","15Hz","20Hz"],"range":[[1,0],[2,2],[7,3,2,3],[6,3],[2,2]]},
        "legend":{"orient":"none","legendX":198,"legendY":95,"title":null,"symbolType":"M-1,0L3,0","symbolSize":156,"symbolStrokeWidth":1.5,"labelFontSize":16.5,"labelOffset":13.5,"rowPadding":3.5,"padding":4}},
      "order":{"field":"i","type":"quantitative"}}},
    {"data":{"name":"c"},"transform":[{"filter":"datum.s=='20Hz'"}],"mark":{"type":"point","filled":true,"size":14,"opacity":1},"encoding":{"color":{"field":"s","type":"nominal"}}},
    {"data":{"values":[{"x":3.11,"y":161,"t":"(c)"}]},"mark":{"type":"text","font":"DejaVu Sans","fontSize":20,"color":"#000"},"encoding":{"text":{"field":"t"}}}
   ]},
  {"width":270,"height":202,
   "encoding":{
    "x":{"field":"x","type":"quantitative","scale":{"domain":[1.39,3.35],"nice":false,"zero":false},"axis":{"values":[1.5,2,2.5,3],"format":".3~g","title":"Input current(A)"}},
    "y":{"field":"y","type":"quantitative","scale":{"domain":[0,80],"nice":false,"zero":false},"axis":{"values":[0,20,40,60,80],"format":".3~g","title":null}}
   },
   "layer":[
    {"data":{"name":"d"},"mark":{"type":"line","strokeWidth":1.4},"encoding":{
      "color":{"field":"s","type":"nominal","scale":{"domain":["17℃","20℃","23℃","26℃","29℃","32℃"],"range":["#ff00ff","#ff0000","#00dd00","#0000ff","#ffff00","#00ffff"]},
        "legend":{"orient":"none","legendX":201,"legendY":70,"title":null,"symbolType":"M-1,0L3,0","symbolSize":156,"symbolStrokeWidth":1.5,"labelFontSize":17,"labelOffset":13.5,"rowPadding":4,"padding":4}},
      "strokeDash":{"field":"s","type":"nominal","scale":{"domain":["17℃","20℃","23℃","26℃","29℃","32℃"],"range":[[2,2],[2,2],[1,0],[6,3],[6,3],[7,3,2,3]]},
        "legend":{"orient":"none","legendX":201,"legendY":70,"title":null,"symbolType":"M-1,0L3,0","symbolSize":156,"symbolStrokeWidth":1.5,"labelFontSize":17,"labelOffset":13.5,"rowPadding":4,"padding":4}},
      "order":{"field":"i","type":"quantitative"}}},
    {"data":{"name":"d"},"transform":[{"filter":"datum.s=='20℃' || datum.s=='29℃'"}],"mark":{"type":"point","filled":true,"size":12,"opacity":1},"encoding":{"color":{"field":"s","type":"nominal"}}},
    {"data":{"values":[{"x":3.24,"y":76,"t":"(d)"}]},"mark":{"type":"text","font":"DejaVu Sans","fontSize":20,"color":"#000"},"encoding":{"text":{"field":"t"}}}
   ]}
 ]}
]
}
